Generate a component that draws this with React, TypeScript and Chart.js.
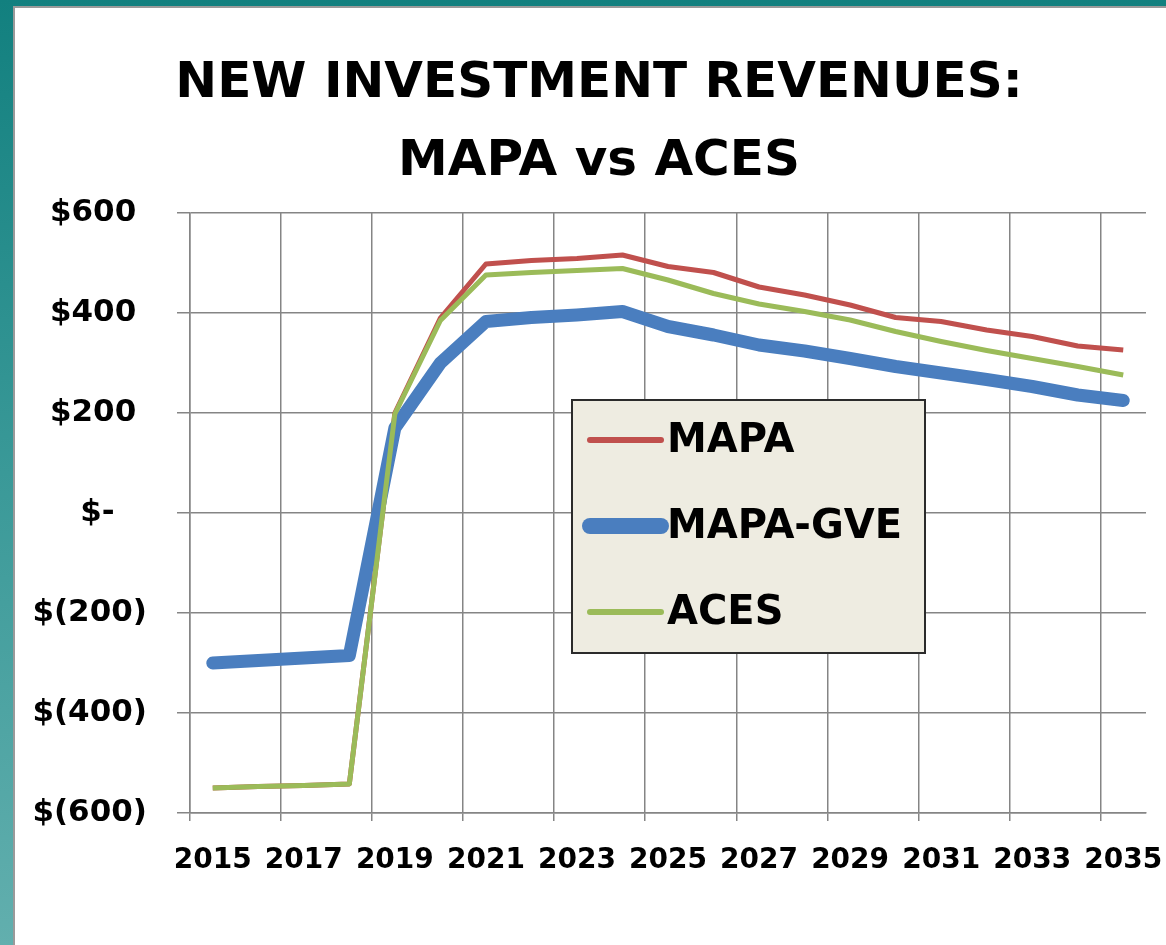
import React, { useEffect, useRef } from "react";
import { Chart, registerables } from "chart.js";

Chart.register(...registerables);

const years = [
  "2015", "2016", "2017", "2018", "2019", "2020", "2021", "2022", "2023", "2024", "2025",
  "2026", "2027", "2028", "2029", "2030", "2031", "2032", "2033", "2034", "2035",
];
const mapa = [-550, -547, -545, -542, 200, 390, 498, 505, 509, 516, 493, 481, 452, 436, 416, 391, 383, 366, 353, 334, 326];
const mapaGve = [-300, -295, -290, -285, 170, 300, 383, 391, 396, 403, 373, 356, 336, 324, 309, 293, 280, 267, 253, 236, 225];
const aces = [-550, -547, -545, -542, 198, 385, 476, 481, 485, 489, 466, 439, 418, 403, 386, 363, 343, 325, 309, 293, 276];

const titleLines = ["NEW INVESTMENT REVENUES:", "MAPA vs ACES"];
const seriesNames = ["MAPA", "MAPA-GVE", "ACES"];
const seriesColors = ["#C0504D", "#4A7EBF", "#9BBB59"];

const FONT = "'DejaVu Sans', sans-serif";
const DOLLAR = String.fromCharCode(36);
const LP = String.fromCharCode(40);
const RP = String.fromCharCode(41);

function fmtMoney(v: number): string {
  if (v === 0) return DOLLAR + "-\u2007 ";
  if (v < 0) return DOLLAR + LP + String(Math.abs(v)) + RP;
  return DOLLAR + String(v) + " ";
}

const titleBlock = {
  id: "titleBlock",
  afterDraw(chart: any) {
    const { ctx } = chart;
    ctx.save();
    ctx.fillStyle = "#000";
    ctx.font = `bold 50px ${FONT}`;
    ctx.textAlign = "center";
    ctx.textBaseline = "alphabetic";
    titleLines.forEach((line, i) => {
      ctx.fillText(line, 584, 89 + i * 78);
    });
    ctx.restore();
  },
};

const boxLegend = {
  id: "boxLegend",
  afterDraw(chart: any) {
    const { ctx, chartArea } = chart;
    const x = chartArea.left + 382;
    const y = chartArea.top + 187;
    const w = 353;
    const h = 253;
    ctx.save();
    ctx.fillStyle = "#EEECE1";
    ctx.fillRect(x, y, w, h);
    ctx.lineWidth = 2;
    ctx.strokeStyle = "#2b2b2b";
    ctx.strokeRect(x, y, w, h);
    const widths = [6, 16, 6];
    seriesNames.forEach((name, i) => {
      const cy = y + 40 + i * 86;
      ctx.beginPath();
      ctx.strokeStyle = seriesColors[i];
      ctx.lineWidth = widths[i];
      ctx.lineCap = "round";
      ctx.moveTo(x + 18, cy);
      ctx.lineTo(x + 89, cy);
      ctx.stroke();
      ctx.fillStyle = "#000";
      ctx.font = `bold 40px ${FONT}`;
      ctx.textBaseline = "middle";
      ctx.textAlign = "left";
      ctx.fillText(name, x + 95, cy + 2);
    });
    ctx.restore();
  },
};

export default function App() {
  const ref = useRef<HTMLCanvasElement | null>(null);

  useEffect(() => {
    if (!ref.current) return;
    const gridColor = "#858585";
    const chart = new Chart(ref.current, {
      type: "line",
      data: {
        labels: years,
        datasets: [
          {
            label: seriesNames[0],
            data: mapa,
            borderColor: seriesColors[0],
            backgroundColor: seriesColors[0],
            borderWidth: 5,
            pointRadius: 0,
            tension: 0,
            borderJoinStyle: "round",
            order: 3,
          },
          {
            label: seriesNames[1],
            data: mapaGve,
            borderColor: seriesColors[1],
            backgroundColor: seriesColors[1],
            borderWidth: 13,
            pointRadius: 0,
            tension: 0,
            borderJoinStyle: "round",
            borderCapStyle: "round",
            order: 2,
          },
          {
            label: seriesNames[2],
            data: aces,
            borderColor: seriesColors[2],
            backgroundColor: seriesColors[2],
            borderWidth: 5,
            pointRadius: 0,
            tension: 0,
            borderJoinStyle: "round",
            order: 1,
          },
        ],
      },
      options: {
        responsive: false,
        animation: false,
        devicePixelRatio: 1,
        layout: { padding: { left: 0, right: 20, top: 205, bottom: 62 } },
        plugins: {
          legend: { display: false },
          tooltip: { enabled: false },
          title: { display: false },
        },
        scales: {
          x: {
            type: "category",
            offset: true,
            grid: {
              offset: true,
              color: (c: any) => (c.index % 2 === 0 ? gridColor : "rgba(0,0,0,0)"),
              lineWidth: 1.5,
              tickLength: 8,
            },
            border: { display: true, color: gridColor, width: 1.5 },
            ticks: {
              autoSkip: false,
              maxRotation: 0,
              minRotation: 0,
              padding: 23,
              color: "#000",
              font: { family: FONT, size: 28, weight: "bold" },
              callback: (_v: any, i: number) => (i % 2 === 0 ? years[i] : ""),
            },
            afterFit: (s: any) => {
              s.height = 70;
              s.paddingLeft = 0;
              s.paddingRight = 0;
            },
          },
          y: {
            min: -600,
            max: 600,
            grid: { color: gridColor, lineWidth: 1.5, tickLength: 13 },
            border: { display: true, color: gridColor, width: 1.5 },
            ticks: {
              stepSize: 200,
              padding: 30,
              color: "#000",
              font: { family: FONT, size: 31, weight: "bold" },
              callback: (v: any) => fmtMoney(Number(v)),
            },
            afterFit: (s: any) => {
              s.width = 175;
            },
          },
        },
      },
      plugins: [titleBlock, boxLegend],
    });
    return () => chart.destroy();
  }, []);

  return (
    <div
      style={{
        position: "absolute",
        left: 0,
        top: 0,
        width: 1166,
        height: 945,
        overflow: "hidden",
        background: "linear-gradient(180deg, #12807F 0%, #3A9998 50%, #62AFAE 100%)",
      }}
    >
      <div
        style={{
          position: "absolute",
          left: 13,
          top: 6,
          width: 1153,
          height: 939,
          boxSizing: "border-box",
          background: "#fff",
          borderLeft: "2px solid #9a9a9a",
          borderTop: "2px solid #9a9a9a",
        }}
      >
        <canvas
          ref={ref}
          width={1151}
          height={937}
          style={{ display: "block", width: 1151, height: 937 }}
        />
      </div>
    </div>
  );
}
